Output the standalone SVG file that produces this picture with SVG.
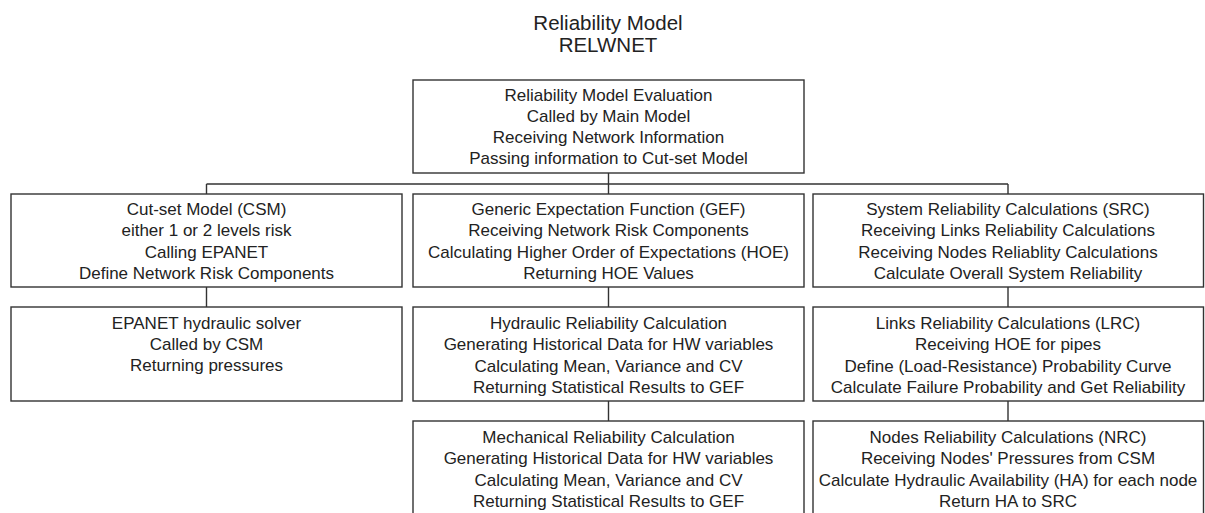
<svg xmlns="http://www.w3.org/2000/svg" width="1205" height="513" viewBox="0 0 1205 513">
<style>
.box{fill:#fff;stroke:#333;stroke-width:1.4}
.t{font-family:"Liberation Sans",Arial,sans-serif;font-size:17px;fill:#222;text-anchor:middle}
.title{font-family:"Liberation Sans",Arial,sans-serif;font-size:20.5px;fill:#222;text-anchor:middle}
.c{fill:none;stroke:#333;stroke-width:1.4}
</style>
<rect width="1205" height="513" fill="#fff"/>
<g id="title">
<text class="title" x="608" y="29.5">Reliability Model</text>
<text class="title" x="608" y="51.5">RELWNET</text>
</g>
<g id="connectors">
<path class="c" d="M608.5 173V184M206.5 184H1008M206.5 184V194M608.5 184V194M1008 184V194"/>
<path class="c" d="M206.5 287V307M608.5 287V307M1008 287V307M608.5 401V421M1008 401V421"/>
</g>
<g id="rme">
<rect class="box" x="413" y="80" width="391" height="93"/>
<text class="t" x="608.5" y="101">Reliability Model Evaluation</text>
<text class="t" x="608.5" y="122">Called by Main Model</text>
<text class="t" x="608.5" y="143">Receiving Network Information</text>
<text class="t" x="608.5" y="164">Passing information to Cut-set Model</text>
</g>
<g id="csm">
<rect class="box" x="11" y="194" width="391" height="93"/>
<text class="t" x="206.5" y="214.5">Cut-set Model (CSM)</text>
<text class="t" x="206.5" y="236">either 1 or 2 levels risk</text>
<text class="t" x="206.5" y="257.5">Calling EPANET</text>
<text class="t" x="206.5" y="278.5">Define Network Risk Components</text>
</g>
<g id="gef">
<rect class="box" x="413" y="194" width="391" height="93"/>
<text class="t" x="608.5" y="214.5">Generic Expectation Function (GEF)</text>
<text class="t" x="608.5" y="236">Receiving Network Risk Components</text>
<text class="t" x="608.5" y="257.5">Calculating Higher Order of Expectations (HOE)</text>
<text class="t" x="608.5" y="278.5">Returning HOE Values</text>
</g>
<g id="src">
<rect class="box" x="813" y="194" width="390.5" height="93"/>
<text class="t" x="1008" y="214.5">System Reliability Calculations (SRC)</text>
<text class="t" x="1008" y="236">Receiving Links Reliability Calculations</text>
<text class="t" x="1008" y="257.5">Receiving Nodes Reliablity Calculations</text>
<text class="t" x="1008" y="278.5">Calculate Overall System Reliability</text>
</g>
<g id="epanet">
<rect class="box" x="11" y="307" width="391" height="94"/>
<text class="t" x="206.5" y="328.5">EPANET hydraulic solver</text>
<text class="t" x="206.5" y="350">Called by CSM</text>
<text class="t" x="206.5" y="370.5">Returning pressures</text>
</g>
<g id="hrc">
<rect class="box" x="413" y="307" width="391" height="94"/>
<text class="t" x="608.5" y="328.5">Hydraulic Reliability Calculation</text>
<text class="t" x="608.5" y="350">Generating Historical Data for HW variables</text>
<text class="t" x="608.5" y="371.5">Calculating Mean, Variance and CV</text>
<text class="t" x="608.5" y="392.5">Returning Statistical Results to GEF</text>
</g>
<g id="lrc">
<rect class="box" x="813" y="307" width="390.5" height="94"/>
<text class="t" x="1008" y="328.5">Links Reliability Calculations (LRC)</text>
<text class="t" x="1008" y="350">Receiving HOE for pipes</text>
<text class="t" x="1008" y="371.5">Define (Load-Resistance) Probability Curve</text>
<text class="t" x="1008" y="392.5">Calculate Failure Probability and Get Reliability</text>
</g>
<g id="mrc">
<rect class="box" x="413" y="421" width="391" height="100"/>
<text class="t" x="608.5" y="442.5">Mechanical Reliability Calculation</text>
<text class="t" x="608.5" y="464">Generating Historical Data for HW variables</text>
<text class="t" x="608.5" y="485.5">Calculating Mean, Variance and CV</text>
<text class="t" x="608.5" y="507">Returning Statistical Results to GEF</text>
</g>
<g id="nrc">
<rect class="box" x="813" y="421" width="390.5" height="100"/>
<text class="t" x="1008" y="442.5">Nodes Reliability Calculations (NRC)</text>
<text class="t" x="1008" y="464">Receiving Nodes' Pressures from CSM</text>
<text class="t" x="1008" y="485.5">Calculate Hydraulic Availability (HA) for each node</text>
<text class="t" x="1008" y="507">Return HA to SRC</text>
</g>
</svg>
